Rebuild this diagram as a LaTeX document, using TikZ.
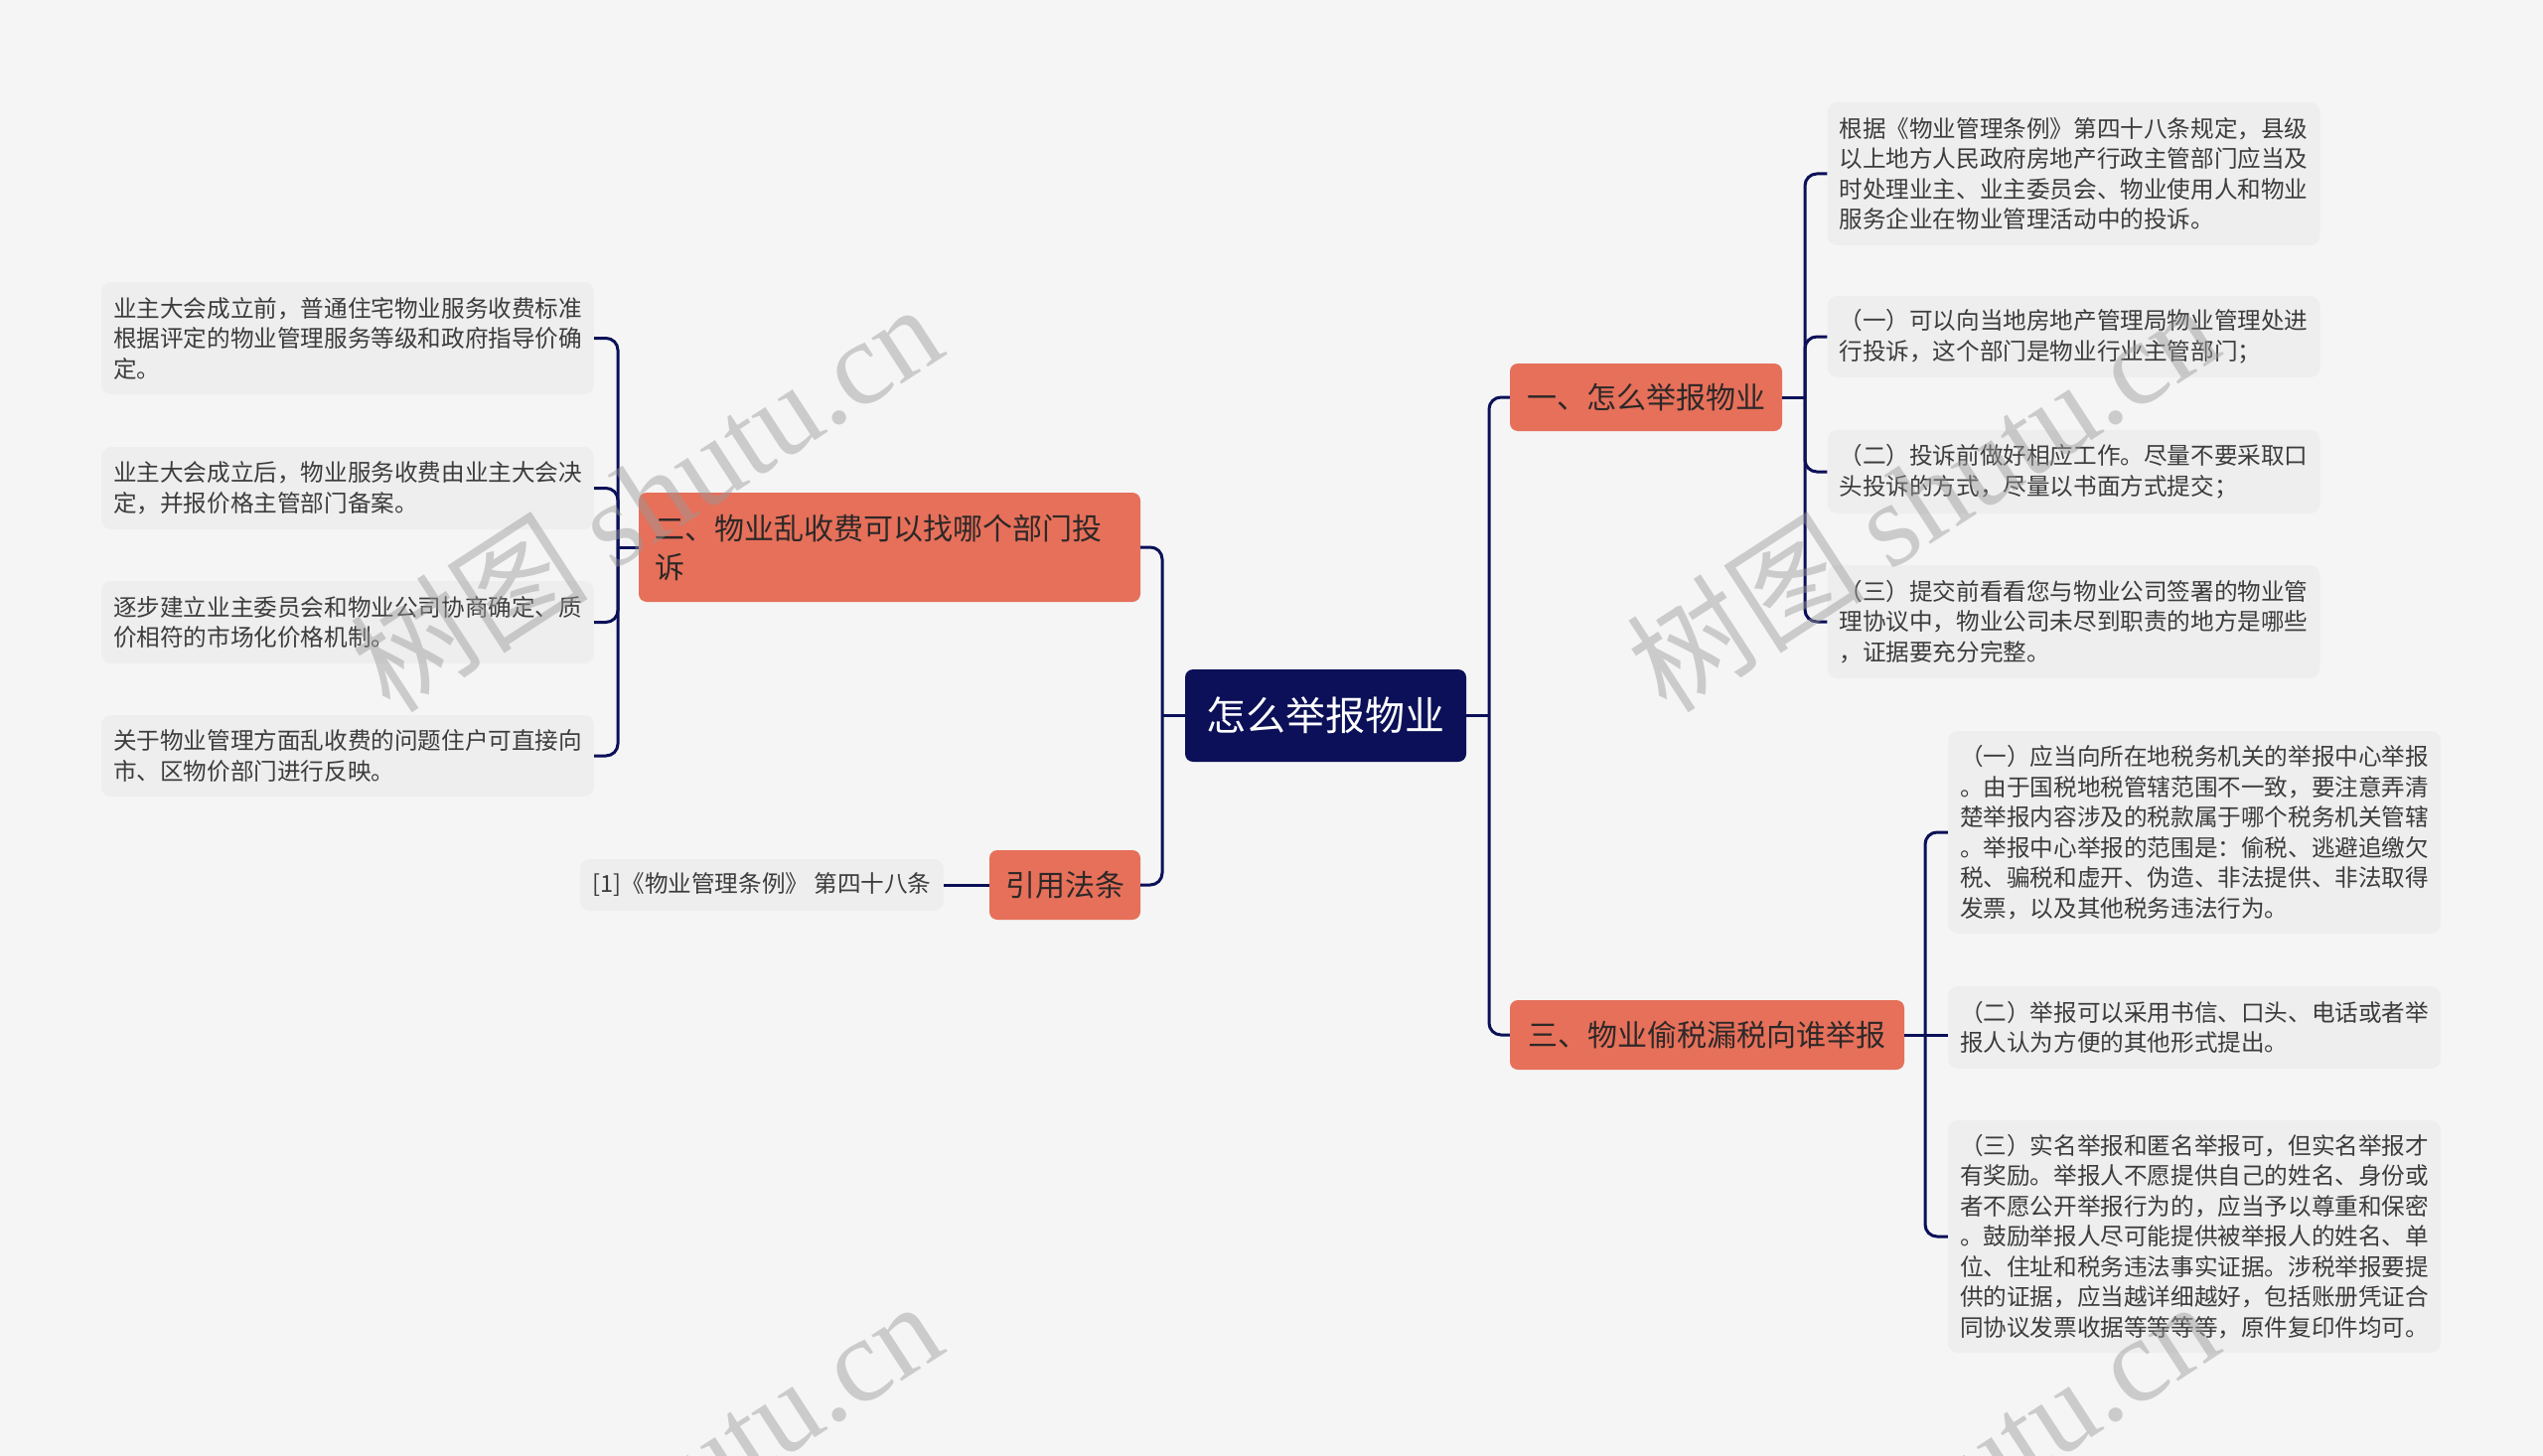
\documentclass[tikz,border=0pt]{standalone}
\usepackage{fontspec}
\setmainfont{Noto Sans CJK SC}
\newfontfamily\wmlatin{Liberation Serif}
\definecolor{bgc}{RGB}{245,245,245}
\definecolor{leafc}{RGB}{238,238,238}
\definecolor{navy}{RGB}{11,16,88}
\definecolor{orangec}{RGB}{230,112,90}
\definecolor{leaftext}{RGB}{60,60,60}
\definecolor{darktext}{RGB}{45,40,40}
\begin{document}
\begin{tikzpicture}[x=1pt,y=-1pt,
  leaf/.style={fill=leafc, rounded corners=10pt, inner xsep=12pt, inner ysep=0pt,
    align=left, text=leaftext, font=\fontsize{23.6}{30.5}\selectfont, text width=472pt},
  obox/.style={fill=orangec, rounded corners=8pt, text=darktext, inner sep=0pt,
    font=\fontsize{30}{39}\selectfont},
  rootbox/.style={fill=navy, rounded corners=8pt, text=white, inner sep=0pt,
    font=\fontsize{40}{48}\selectfont},
  conn/.style={draw=navy, line width=3pt, rounded corners=12pt},
  wm/.style={text=black!40, opacity=0.45, font=\fontsize{120}{130}\selectfont, inner sep=0pt}
]
\useasboundingbox (0,0) rectangle (2560,1466);
\clip (0,0) rectangle (2560,1466);
\fill[bgc] (0,0) rectangle (2560,1466);

% root
\node[rootbox, minimum width=283pt, minimum height=93pt] (root) at (1334.5,720.5) {怎么举报物业};

% level 1
\node[obox, minimum width=274pt, minimum height=68pt] (n1) at (1657,400) {一、怎么举报物业};
\node[obox, minimum width=397pt, minimum height=70pt] (n3) at (1718.5,1042) {三、物业偷税漏税向谁举报};
\node[obox, minimum width=505pt, minimum height=110pt, text width=473pt, inner xsep=16pt, align=left] (n2) at (895.5,551) {二、物业乱收费可以找哪个部门投\\诉};
\node[obox, minimum width=152pt, minimum height=70pt] (law) at (1072,891) {引用法条};

% law leaf
\node[fill=leafc, rounded corners=10pt, inner sep=0pt, minimum width=366pt, minimum height=52pt,
  text=leaftext, font=\fontsize{23.6}{30.5}\selectfont] (lawleaf) at (767,891) {[1]《物业管理条例》 第四十八条};

% right group 1
\node[leaf, minimum height=144pt] (L1) at (2087.5,175) {根据《物业管理条例》第四十八条规定，县级\\以上地方人民政府房地产行政主管部门应当及\\时处理业主、业主委员会、物业使用人和物业\\服务企业在物业管理活动中的投诉。};
\node[leaf, minimum height=82pt] (L2) at (2087.5,339) {（一）可以向当地房地产管理局物业管理处进\\行投诉，这个部门是物业行业主管部门；};
\node[leaf, minimum height=84pt] (L3) at (2087.5,475) {（二）投诉前做好相应工作。尽量不要采取口\\头投诉的方式，尽量以书面方式提交；};
\node[leaf, minimum height=114pt] (L4) at (2087.5,626) {（三）提交前看看您与物业公司签署的物业管\\理协议中，物业公司未尽到职责的地方是哪些\\，证据要充分完整。};

% right group 3
\node[leaf, minimum height=204pt] (M1) at (2209,838) {（一）应当向所在地税务机关的举报中心举报\\。由于国税地税管辖范围不一致，要注意弄清\\楚举报内容涉及的税款属于哪个税务机关管辖\\。举报中心举报的范围是：偷税、逃避追缴欠\\税、骗税和虚开、伪造、非法提供、非法取得\\发票，以及其他税务违法行为。};
\node[leaf, minimum height=83pt] (M2) at (2209,1034.5) {（二）举报可以采用书信、口头、电话或者举\\报人认为方便的其他形式提出。};
\node[leaf, minimum height=234pt] (M3) at (2209,1245) {（三）实名举报和匿名举报可，但实名举报才\\有奖励。举报人不愿提供自己的姓名、身份或\\者不愿公开举报行为的，应当予以尊重和保密\\。鼓励举报人尽可能提供被举报人的姓名、单\\位、住址和税务违法事实证据。涉税举报要提\\供的证据，应当越详细越好，包括账册凭证合\\同协议发票收据等等等等，原件复印件均可。};

% left group
\node[leaf, minimum height=113pt] (K1) at (350,340.5) {业主大会成立前，普通住宅物业服务收费标准\\根据评定的物业管理服务等级和政府指导价确\\定。};
\node[leaf, minimum height=83pt] (K2) at (350,491.5) {业主大会成立后，物业服务收费由业主大会决\\定，并报价格主管部门备案。};
\node[leaf, minimum height=83pt] (K3) at (350,626.5) {逐步建立业主委员会和物业公司协商确定、质\\价相符的市场化价格机制。};
\node[leaf, minimum height=82pt] (K4) at (350,761) {关于物业管理方面乱收费的问题住户可直接向\\市、区物价部门进行反映。};

% junctions
\coordinate (jL) at (1170,720.5);
\coordinate (jR) at (1499,720.5);
\coordinate (j1) at (1817,400);
\coordinate (j3) at (1938,1042);
\coordinate (j2) at (622,551);

% connectors root
\draw[conn] (root.west) -- (jL);
\draw[conn] (root.east) -- (jR);
\draw[conn] (n2.east) -| (jL) |- (law.east);
\draw[conn] (n1.west) -| (jR) |- (n3.west);
\draw[conn] (lawleaf.east) -- (law.west);

% group 1
\draw[conn] (n1.east) -- (j1);
\draw[conn] (L1.west) -| (j1);
\draw[conn] (L2.west) -| (j1);
\draw[conn] (L3.west) -| (j1);
\draw[conn] (L4.west) -| (j1);

% group 3
\draw[conn] (n3.east) -- (j3);
\draw[conn] (M1.west) -| (j3);
\draw[conn] (j3) -- (M2.west |- j3);
\draw[conn] (M3.west) -| (j3);

% left group
\draw[conn] (n2.west) -- (j2);
\draw[conn] (K1.east) -| (j2);
\draw[conn] (K2.east) -| (j2);
\draw[conn] (K3.east) -| (j2);
\draw[conn] (K4.east) -| (j2);

% watermarks
\node[wm, rotate=33] (wm1) at (650,500) {树图 {\wmlatin shutu.cn}};
\node[wm, rotate=33] (wm2) at (1935,500) {树图 {\wmlatin shutu.cn}};
\node[wm, rotate=33] (wm3) at (650,1504) {树图 {\wmlatin shutu.cn}};
\node[wm, rotate=33] (wm4) at (1935,1504) {树图 {\wmlatin shutu.cn}};
\end{tikzpicture}
\end{document}
